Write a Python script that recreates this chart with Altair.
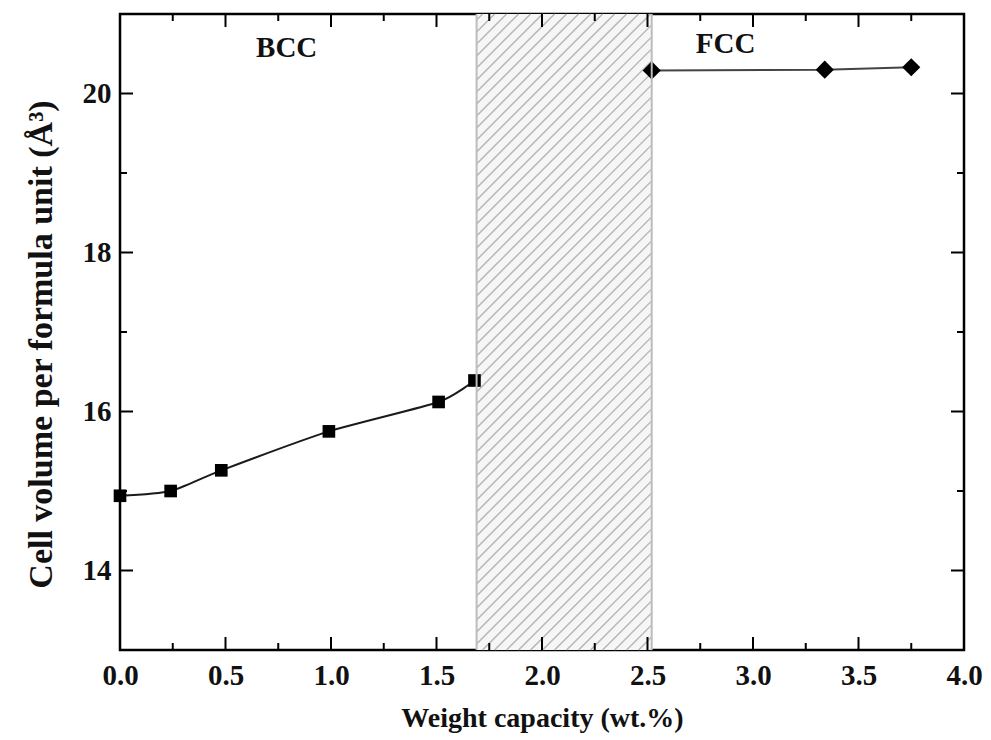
import altair as alt
import pandas as pd

# ---- data ----
bcc_x = [0.0, 0.24, 0.48, 0.99, 1.51, 1.68]
bcc_y = [14.94, 15.00, 15.26, 15.75, 16.12, 16.39]
fcc_x = [2.52, 3.34, 3.75]
fcc_y = [20.29, 20.30, 20.33]
hatch_x = [1.69, 2.52]          # two-phase region
x_major = [0.0, 0.5, 1.0, 1.5, 2.0, 2.5, 3.0, 3.5, 4.0]
x_minor = [0.25, 0.75, 1.25, 1.75, 2.25, 2.75, 3.25, 3.75]
y_major = [14, 16, 18, 20]
y_minor = [15, 17, 19]
phase_names = ["BCC", "FCC"]
phase_x = [0.79, 2.87]
phase_y = [20.57, 20.62]

XMIN, XMAX, YMIN, YMAX = 0, 4, 13, 21
W, H = 844, 636
FONT = "Liberation Serif"

xscale = alt.Scale(domain=[XMIN, XMAX], nice=False, zero=False)
yscale = alt.Scale(domain=[YMIN, YMAX], nice=False, zero=False)
xaxis = alt.Axis(values=x_major, format=".1f", tickSize=0, domain=False, grid=False,
                 labelFlush=False, labelOverlap=False,
                 labelFont=FONT, labelFontWeight="bold", labelFontSize=29, labelColor="#111",
                 labelPadding=11, title="Weight capacity (wt.%)", titleFont=FONT,
                 titleFontWeight="bold", titleFontSize=28, titleColor="#111",
                 titleBaseline="alphabetic", titleY=76)
yaxis = alt.Axis(values=y_major, format="d", tickSize=0, domain=False, grid=False,
                 labelFlush=False, labelOverlap=False,
                 labelFont=FONT, labelFontWeight="bold", labelFontSize=29, labelColor="#111",
                 labelPadding=9, title="Cell volume per formula unit (Å³)", titleFont=FONT,
                 titleFontWeight="bold", titleFontSize=34, titleColor="#111",
                 titleX=-62, titleY=H / 2 + 12)

X = alt.X("x:Q", scale=xscale, axis=xaxis)
Y = alt.Y("y:Q", scale=yscale, axis=yaxis)

# ---- hatch region ----
hatch_df = pd.DataFrame({"x": [hatch_x[0]], "x2": [hatch_x[1]], "y": [YMIN], "y2": [YMAX]})
rect = alt.Chart(hatch_df).mark_rect(fill="#f6f6f6").encode(x=X, x2="x2:Q", y=Y, y2="y2:Q")

# diagonal hatch lines (45 deg in screen space), clipped to the region
pxx = W / (XMAX - XMIN)
pxy = H / (YMAX - YMIN)
X0 = (hatch_x[0] - XMIN) * pxx
X1 = (hatch_x[1] - XMIN) * pxx
segs = []
step = 12.0
c = X0 + step / 2
while c < X1 + H:
    a = max(X0, c - H)
    b = min(X1, c)
    if b > a:
        segs.append({"x": XMIN + a / pxx, "y": YMAX - (c - a) / pxy,
                     "x2": XMIN + b / pxx, "y2": YMAX - (c - b) / pxy})
    c += step
hatch_lines = alt.Chart(pd.DataFrame(segs)).mark_rule(color="#b4b4b4", strokeWidth=1.4).encode(
    x=X, x2="x2:Q", y=Y, y2="y2:Q")

# ---- data series ----
bcc_df = pd.DataFrame({"x": bcc_x, "y": bcc_y})
fcc_df = pd.DataFrame({"x": fcc_x, "y": fcc_y})
bcc_line = alt.Chart(bcc_df).mark_line(color="#1a1a1a", strokeWidth=2, interpolate="cardinal",
                                       tension=0.35).encode(x=X, y=Y)
fcc_line = alt.Chart(fcc_df).mark_line(color="#444", strokeWidth=2).encode(x=X, y=Y)
bcc_pts = alt.Chart(bcc_df).mark_point(shape="square", filled=True, size=160, color="black", opacity=1).encode(x=X, y=Y)
fcc_pts = alt.Chart(fcc_df).mark_point(shape="diamond", filled=True, size=330, color="black", opacity=1).encode(x=X, y=Y)

# border lines of hatch region on top
border_df = pd.DataFrame({"x": hatch_x, "y": [YMIN, YMIN], "y2": [YMAX, YMAX]})
border = alt.Chart(border_df).mark_rule(color="#bdbdbd", strokeWidth=2).encode(x=X, y=Y, y2="y2:Q")

# ---- phase labels ----
lab_df = pd.DataFrame({"x": phase_x, "y": phase_y, "t": phase_names})
labels = alt.Chart(lab_df).mark_text(font=FONT, fontWeight="bold", fontSize=29, color="#111").encode(
    x=X, y=Y, text="t:N")

# ---- inward ticks on all four sides ----
def xticks(vals, length):
    df = pd.DataFrame({"x": vals})
    bot = alt.Chart(df).mark_rule(color="black", strokeWidth=2).encode(
        x=X, y=alt.value(H), y2=alt.value(H - length))
    top = alt.Chart(df).mark_rule(color="black", strokeWidth=2).encode(
        x=X, y=alt.value(0), y2=alt.value(length))
    return [bot, top]

def yticks(vals, length):
    df = pd.DataFrame({"y": vals})
    left = alt.Chart(df).mark_rule(color="black", strokeWidth=2).encode(
        y=Y, x=alt.value(0), x2=alt.value(length))
    right = alt.Chart(df).mark_rule(color="black", strokeWidth=2).encode(
        y=Y, x=alt.value(W), x2=alt.value(W - length))
    return [left, right]

ticks = xticks(x_major, 13) + xticks(x_minor, 7) + yticks(y_major, 13) + yticks(y_minor, 7)

chart = alt.layer(rect, hatch_lines, bcc_line, fcc_line, bcc_pts, fcc_pts, border, labels, *ticks).properties(
    width=W, height=H,
    autosize=alt.AutoSizeParams(type="none"),
    padding={"left": 112, "top": 6, "right": 19, "bottom": 86},
    background="white",
).configure_view(stroke="black", strokeWidth=2.5)

chart.save("out.html", embed_options={"renderer": "svg", "actions": False})
